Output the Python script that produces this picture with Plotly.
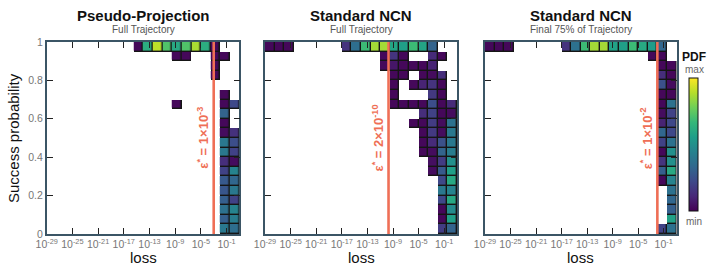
import math
import plotly.graph_objects as go

# ---------------- data ----------------
panel_titles = ["Pseudo-Projection", "Standard NCN", "Standard NCN"]
panel_subtitles = ["Full Trajectory", "Full Trajectory", "Final 75% of Trajectory"]
eps_star = [1e-3, 2e-10, 1e-2]
eps_labels = ["ε<sup>*</sup> = 1×10<sup>-3</sup>",
              "ε<sup>*</sup> = 2×10<sup>-10</sup>",
              "ε<sup>*</sup> = 1×10<sup>-2</sup>"]

# log10(loss) bin centres (bins 1.5 decades wide) and success-probability bin centres (top -> bottom)
loss_bin_centers = [-28.25, -26.75, -25.25, -23.75, -22.25, -20.75, -19.25, -17.75, -16.25, -14.75,
                    -13.25, -11.75, -10.25, -8.75, -7.25, -5.75, -4.25, -2.75, -1.25, 0.25]
prob_bin_centers = [0.975, 0.925, 0.875, 0.825, 0.775, 0.725, 0.675, 0.625, 0.575, 0.525,
                    0.475, 0.425, 0.375, 0.325, 0.275, 0.225, 0.175, 0.125, 0.075, 0.025]

x_tick_vals = [-29, -25, -21, -17, -13, -9, -5, -1]
x_tick_text = ["10<sup>-29</sup>", "10<sup>-25</sup>", "10<sup>-21</sup>", "10<sup>-17</sup>",
               "10<sup>-13</sup>", "10<sup>-9</sup>", "10<sup>-5</sup>", "10<sup>-1</sup>"]
y_tick_vals = [0, 0.2, 0.4, 0.6, 0.8, 1]
y_tick_text = ["0", "0.2", "0.4", "0.6", "0.8", "1"]

# normalised PDF per cell: {probability-row (0 = top): {loss-bin: value}}
pseudo_projection_pdf = {
    0: {9: .02, 10: .62, 11: .90, 12: .72, 13: .60, 14: .72, 15: .87, 16: .62, 17: .02},
    1: {13: .02, 14: .02, 17: .02, 18: .02},
    2: {17: .02},
    3: {17: .02},
    5: {18: .02},
    6: {13: .02, 18: .02, 19: .22},
    7: {18: .32},
    8: {18: .02},
    9: {18: .03, 19: .14},
    10: {18: .40, 19: .24},
    11: {18: .40, 19: .20},
    12: {18: .13, 19: .03},
    13: {18: .20, 19: .45},
    14: {18: .28, 19: .33},
    15: {18: .27, 19: .40},
    16: {18: .30, 19: .20},
    17: {18: .37, 19: .45},
    18: {18: .30, 19: .42},
    19: {18: .40, 19: .36},
}
ncn_full_pdf = {
    0: {0: .02, 1: .02, 2: .02, 8: .15, 9: .36, 10: .68, 11: .86, 12: .86, 13: .58,
        14: .56, 15: .68, 16: .58, 17: .32},
    1: {12: .02, 13: .15, 14: .02, 17: .12, 18: .02},
    2: {12: .02, 13: .06, 14: .02, 15: .02, 16: .02, 17: .10},
    3: {13: .02, 14: .02, 16: .02, 17: .03, 18: .13},
    4: {13: .02, 15: .02, 16: .10, 17: .15, 18: .02},
    5: {13: .02, 17: .17, 18: .02},
    6: {13: .02, 14: .02, 15: .02, 16: .02, 17: .24, 18: .02, 19: .12},
    7: {16: .13, 17: .20, 18: .02, 19: .03},
    8: {15: .02, 16: .02, 17: .18, 18: .03, 19: .37},
    9: {16: .02, 17: .17, 18: .03, 19: .40},
    10: {16: .02, 17: .12, 18: .25, 19: .40},
    11: {16: .02, 17: .03, 18: .32, 19: .42},
    12: {17: .04, 18: .18, 19: .50},
    13: {17: .03, 18: .28, 19: .56},
    14: {18: .22, 19: .60},
    15: {18: .40, 19: .45},
    16: {18: .22, 19: .60},
    17: {18: .02, 19: .48},
    18: {18: .02, 19: .56},
    19: {18: .18, 19: .32},
}
ncn_final75_pdf = {
    0: {0: .02, 1: .02, 2: .02, 8: .15, 9: .37, 10: .68, 11: .86, 12: .86, 13: .57,
        14: .56, 15: .68, 16: .60, 17: .55, 18: .33},
    1: {17: .02, 18: .02},
    2: {18: .02, 19: .02},
    3: {18: .13, 19: .02},
    4: {18: .25, 19: .03},
    5: {18: .02, 19: .02},
    6: {18: .02, 19: .37},
    7: {18: .03, 19: .20},
    8: {18: .10, 19: .22},
    9: {18: .33, 19: .22},
    10: {18: .20, 19: .37},
    11: {18: .02, 19: .50},
    12: {18: .15, 19: .50},
    13: {18: .30, 19: .60},
    14: {18: .02, 19: .45},
    15: {19: .37},
    16: {19: .33},
    17: {19: .30},
    18: {19: .57},
    19: {18: .20, 19: .37},
}
panel_pdfs = [pseudo_projection_pdf, ncn_full_pdf, ncn_final75_pdf]

# ---------------- layout constants (pixels) ----------------
W, H = 714, 275
panel_px = [(46.7, 239.4), (265.0, 457.0), (485.0, 676.5)]
plot_top, plot_bottom = 42.0, 234.0
RED = "#ef6f56"
AXIS = "#3b5565"
FONT = "Liberation Sans, Arial, Helvetica, sans-serif"


def to_matrix(cells):
    z = []
    for r in range(len(prob_bin_centers)):
        row = cells.get(r, {})
        z.append([row.get(c) for c in range(len(loss_bin_centers))])
    return z


fig = go.Figure()
annotations = []
shapes = []

for k, cells in enumerate(panel_pdfs):
    xa = "x" if k == 0 else f"x{k+1}"
    ya = "y" if k == 0 else f"y{k+1}"
    z = to_matrix(cells)
    mask = [[0 if v is not None else None for v in row] for row in z]
    # dark underlay -> cell borders
    fig.add_trace(go.Heatmap(x=loss_bin_centers, y=prob_bin_centers, z=mask,
                             colorscale=[[0, "#151515"], [1, "#151515"]], showscale=False,
                             hoverinfo="skip", xaxis=xa, yaxis=ya))
    fig.add_trace(go.Heatmap(x=loss_bin_centers, y=prob_bin_centers, z=z,
                             coloraxis="coloraxis", xgap=1.4, ygap=1.4,
                             xaxis=xa, yaxis=ya))
    lx = math.log10(eps_star[k])
    shapes.append(dict(type="line", xref=xa, yref=f"{ya} domain", x0=lx, x1=lx, y0=0, y1=1,
                       line=dict(color=RED, width=2.6), layer="above"))
    annotations.append(dict(xref=xa, yref=ya, x=lx, y=0.5, xshift=-11, text=eps_labels[k],
                            textangle=-90, showarrow=False,
                            font=dict(family=FONT, size=13, color=RED, weight="bold")))
    x0, x1 = panel_px[k]
    cx = (x0 + x1) / 2 / W
    annotations.append(dict(xref="paper", yref="paper", x=cx, y=1 - 15 / H, text=f"<b>{panel_titles[k]}</b>",
                            showarrow=False, xanchor="center", yanchor="middle",
                            font=dict(family=FONT, size=15, color="#111")))
    annotations.append(dict(xref="paper", yref="paper", x=cx, y=1 - 29.5 / H, text=panel_subtitles[k],
                            showarrow=False, xanchor="center", yanchor="middle",
                            font=dict(family=FONT, size=10, color="#555")))
    annotations.append(dict(xref="paper", yref="paper", x=cx, y=1 - 257 / H, text="loss",
                            showarrow=False, xanchor="center", yanchor="middle",
                            font=dict(family=FONT, size=15, color="#111")))

annotations.append(dict(xref="paper", yref="paper", x=13 / W, y=1 - (plot_top + plot_bottom) / 2 / H,
                        text="Success probability", textangle=-90, showarrow=False,
                        xanchor="center", yanchor="middle",
                        font=dict(family=FONT, size=15, color="#111")))
# colour bar labels
annotations += [
    dict(xref="paper", yref="paper", x=694 / W, y=1 - 57 / H, text="<b>PDF</b>", showarrow=False,
         xanchor="center", yanchor="middle", font=dict(family=FONT, size=12, color="#111")),
    dict(xref="paper", yref="paper", x=694 / W, y=1 - 70 / H, text="max", showarrow=False,
         xanchor="center", yanchor="middle", font=dict(family=FONT, size=10, color="#666")),
    dict(xref="paper", yref="paper", x=694 / W, y=1 - 221 / H, text="min", showarrow=False,
         xanchor="center", yanchor="middle", font=dict(family=FONT, size=10, color="#666")),
]

ydom = [1 - plot_bottom / H, 1 - plot_top / H]
axis_common = dict(showline=True, linecolor=AXIS, linewidth=1.6, mirror="ticks",
                   ticks="inside", ticklen=6, tickwidth=1.3, tickcolor="#222",
                   showgrid=False, zeroline=False, automargin=False,
                   tickfont=dict(family=FONT, size=10.5, color="#777"))

layout = dict(width=W, height=H, margin=dict(l=0, r=0, t=0, b=0, autoexpand=False),
              paper_bgcolor="white", plot_bgcolor="white", showlegend=False,
              annotations=annotations, shapes=shapes,
              coloraxis=dict(colorscale="Viridis", cmin=0, cmax=1,
                             colorbar=dict(x=689 / W, xanchor="left", y=1 - 144.5 / H, yanchor="middle",
                                           len=133 / H, lenmode="fraction", thickness=9,
                                           outlinecolor="#111", outlinewidth=1,
                                           showticklabels=False, ticks="", xpad=0, ypad=0)))
for k in range(3):
    x0, x1 = panel_px[k]
    sx = "" if k == 0 else str(k + 1)
    layout[f"xaxis{sx}"] = dict(domain=[x0 / W, x1 / W], range=[-29, 1], anchor=f"y{sx}",
                                tickvals=x_tick_vals, ticktext=x_tick_text, **axis_common)
    layout[f"yaxis{sx}"] = dict(domain=ydom, range=[0, 1], anchor=f"x{sx}",
                                tickvals=y_tick_vals, ticktext=y_tick_text,
                                showticklabels=(k == 0), **axis_common)

fig.update_layout(**layout)
fig.write_html("out.html", config={"displayModeBar": False},
               post_script="document.body.style.margin='0';document.body.style.overflow='hidden';")
